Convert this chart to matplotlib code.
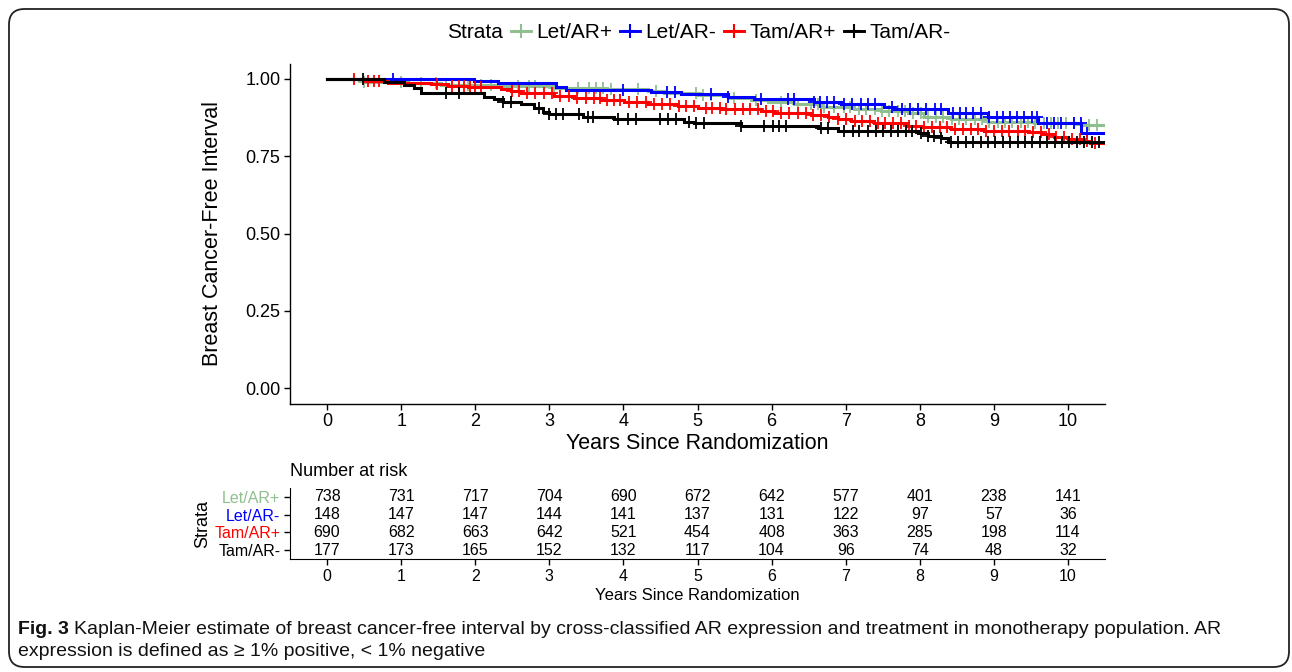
import numpy as np
import matplotlib
matplotlib.use("Agg")
import matplotlib.pyplot as plt
from matplotlib.lines import Line2D
from matplotlib.patches import FancyBboxPatch

plt.rcParams['font.family'] = ['Liberation Sans', 'DejaVu Sans']

# ---------------- data ----------------
strata = ["Let/AR+", "Let/AR-", "Tam/AR+", "Tam/AR-"]
colors = ["#8fbf8f", "#0000ff", "#ff0000", "#000000"]

# step drop times (years) and survival after each drop
let_pos_t = [0.50, 1.09, 1.54, 2.25, 3.06, 3.74, 4.33, 4.55, 5.01, 5.41, 5.72, 5.95, 6.30, 6.67,
             7.11, 7.48, 7.84, 8.06, 8.42, 8.92, 9.54, 10.18]
let_pos_s = [0.991, 0.986, 0.981, 0.976, 0.970, 0.966, 0.961, 0.956, 0.948, 0.939, 0.932, 0.927, 0.918, 0.910,
             0.902, 0.896, 0.889, 0.878, 0.870, 0.862, 0.857, 0.851]

let_neg_t = [1.98, 2.31, 3.09, 3.23, 4.37, 4.78, 5.41, 5.76, 6.57, 6.94, 7.52, 7.65, 8.38, 8.92, 9.60, 10.18]
let_neg_s = [0.995, 0.986, 0.975, 0.964, 0.957, 0.951, 0.943, 0.934, 0.925, 0.918, 0.910, 0.902, 0.891, 0.876,
             0.857, 0.826]

tam_pos_t = [0.50, 0.82, 1.40, 1.63, 1.90, 2.35, 2.48, 2.62, 3.06, 3.33, 3.70, 4.01, 4.33, 4.74, 5.01, 5.32,
             5.86, 6.03, 6.53, 6.76, 6.90, 7.07, 7.38, 7.84, 8.02, 8.42, 8.87, 9.46, 9.64, 9.81, 10.00, 10.18, 10.30]
tam_pos_s = [0.994, 0.988, 0.984, 0.978, 0.975, 0.968, 0.961, 0.954, 0.946, 0.938, 0.932, 0.925, 0.918, 0.914,
             0.907, 0.902, 0.896, 0.891, 0.883, 0.876, 0.869, 0.864, 0.857, 0.849, 0.844, 0.838, 0.833, 0.827,
             0.821, 0.813, 0.806, 0.800, 0.794]

tam_neg_t = [0.77, 1.04, 1.17, 1.27, 2.12, 2.25, 2.38, 2.62, 2.79, 2.91, 3.00, 3.45, 3.87, 4.82, 4.95, 5.59,
             6.63, 6.90, 7.98, 8.11, 8.29, 8.38]
tam_neg_s = [0.991, 0.980, 0.970, 0.956, 0.943, 0.934, 0.925, 0.918, 0.905, 0.894, 0.886, 0.878, 0.870, 0.862,
             0.857, 0.849, 0.840, 0.833, 0.824, 0.817, 0.808, 0.797]

# censoring times (years)
let_pos_c = [0.50, 1.00, 1.27, 1.47, 1.61, 1.90, 2.08, 2.21, 2.58, 2.72, 2.81, 3.06, 3.39, 3.53, 3.63, 3.72,
             3.83, 4.20, 4.44, 4.98, 5.07, 5.18, 5.49, 5.79, 6.13, 6.35, 6.53, 6.62, 6.71, 6.84, 6.98, 7.06,
             7.18, 7.28, 7.39, 7.49, 7.59, 7.70, 7.80, 7.91, 8.01, 8.11, 8.22, 8.32, 8.43, 8.53, 8.63, 8.74,
             8.84, 8.94, 9.05, 9.15, 9.25, 9.36, 9.46, 9.56, 9.67, 9.77, 9.87, 9.98, 10.08, 10.18, 10.29, 10.39]
let_neg_c = [0.89, 4.00, 4.59, 4.70, 5.18, 5.41, 5.86, 6.22, 6.30, 6.57, 6.66, 6.75, 6.84, 6.98, 7.09, 7.20,
             7.30, 7.39, 7.62, 7.76, 7.87, 7.98, 8.09, 8.21, 8.29, 8.45, 8.54, 8.63, 8.72, 8.83, 8.93, 9.04,
             9.13, 9.22, 9.31, 9.40, 9.51, 9.58, 9.72, 9.81, 9.90, 10.08, 10.17, 10.26]
tam_pos_c = [0.36, 0.55, 0.63, 0.70, 1.49, 1.69, 1.78, 1.85, 1.93, 2.00, 2.08, 2.50, 2.59, 2.70, 2.81, 2.93,
             3.04, 3.15, 3.27, 3.38, 3.49, 3.60, 3.69, 3.78, 3.87, 3.96, 4.07, 4.18, 4.30, 4.41, 4.52, 4.63,
             4.75, 4.84, 4.95, 5.11, 5.20, 5.31, 5.39, 5.50, 5.62, 5.71, 5.82, 5.93, 6.02, 6.13, 6.24, 6.36,
             6.47, 6.56, 6.67, 6.78, 6.90, 7.01, 7.12, 7.22, 7.33, 7.43, 7.53, 7.64, 7.74, 7.85, 7.95, 8.06,
             8.16, 8.27, 8.37, 8.48, 8.58, 8.69, 8.79, 8.90, 9.00, 9.11, 9.21, 9.32, 9.42, 9.53, 9.63, 9.74,
             9.84, 9.95, 10.05, 10.16, 10.26, 10.37]
tam_neg_c = [0.49, 1.60, 1.78, 2.38, 2.48, 2.86, 3.00, 3.09, 3.18, 3.40, 3.52, 3.59, 3.93, 4.06, 4.17, 4.50,
             4.60, 4.71, 4.89, 4.98, 5.09, 5.59, 5.90, 6.02, 6.10, 6.19, 6.67, 6.76, 6.98, 7.10, 7.18, 7.30,
             7.41, 7.50, 7.61, 7.70, 7.81, 7.90, 8.01, 8.11, 8.19, 8.29, 8.42, 8.52, 8.62, 8.72, 8.82, 8.92,
             9.02, 9.12, 9.22, 9.32, 9.42, 9.52, 9.62, 9.72, 9.82, 9.92, 10.02, 10.12, 10.22, 10.32, 10.42]

max_time = 10.5

# number at risk
risk_times = [0, 1, 2, 3, 4, 5, 6, 7, 8, 9, 10]
risk_let_pos = [738, 731, 717, 704, 690, 672, 642, 577, 401, 238, 141]
risk_let_neg = [148, 147, 147, 144, 141, 137, 131, 122, 97, 57, 36]
risk_tam_pos = [690, 682, 663, 642, 521, 454, 408, 363, 285, 198, 114]
risk_tam_neg = [177, 173, 165, 152, 132, 117, 104, 96, 74, 48, 32]

y_ticks = [0.00, 0.25, 0.50, 0.75, 1.00]
x_ticks = [0, 1, 2, 3, 4, 5, 6, 7, 8, 9, 10]

curves = [(let_pos_t, let_pos_s, let_pos_c),
          (let_neg_t, let_neg_s, let_neg_c),
          (tam_pos_t, tam_pos_s, tam_pos_c),
          (tam_neg_t, tam_neg_s, tam_neg_c)]
risks = [risk_let_pos, risk_let_neg, risk_tam_pos, risk_tam_neg]

# ---------------- figure ----------------
W, H = 1292, 672
fig = plt.figure(figsize=(W / 100, H / 100), dpi=100)


def fx(px):
    return px / W


def fy(py):
    return 1 - py / H


# frame
frame = FancyBboxPatch((fx(9), fy(667)), fx(1289) - fx(9), (667 - 9) / H,
                       boxstyle="round,pad=0,rounding_size=0.012", transform=fig.transFigure,
                       fill=False, edgecolor="#222222", linewidth=1.3, mutation_aspect=W / H)
fig.patches.append(frame)

# main axes
ax = fig.add_axes([fx(290), fy(403.5), fx(1105) - fx(290), (403.5 - 63.5) / H])
for (t, s, c), col in zip(curves, colors):
    tt = np.concatenate([[0.0], t, [max_time]])
    ss = np.concatenate([[1.0], s, [s[-1]]])
    ax.step(tt, ss, where='post', color=col, lw=2.2, solid_joinstyle='miter')
    idx = np.searchsorted(tt, c, side='right') - 1
    ax.plot(c, ss[idx], ls='none', marker='+', ms=8.5, mew=1.3, color=col)

ax.set_xlim(-0.5, 10.5)
ax.set_ylim(-0.05, 1.05)
ax.set_xticks(x_ticks)
ax.set_yticks(y_ticks)
ax.set_yticklabels([f"{v:.2f}" for v in y_ticks])
for sp in ['top', 'right']:
    ax.spines[sp].set_visible(False)
for sp in ['left', 'bottom']:
    ax.spines[sp].set_linewidth(1.0)
ax.tick_params(axis='both', labelsize=13, length=4, width=1.0, colors='black', pad=3)
ax.set_xlabel("Years Since Randomization", fontsize=15.5, labelpad=2)
ax.set_ylabel("Breast Cancer-Free Interval", fontsize=15.5, labelpad=16)

# legend
fig.text(fx(447), fy(33), "Strata", fontsize=15, va='center', ha='left')
handles = [Line2D([0], [0], color=c, lw=2.1, marker='+', ms=10, mew=1.5) for c in colors]
leg = fig.legend(handles, strata, loc='center left', bbox_to_anchor=(fx(511), fy(33)), ncol=4,
                 frameon=False, fontsize=15, handlelength=0.95, handletextpad=0.25, columnspacing=0.4,
                 borderaxespad=0, borderpad=0)

# risk table
ax2 = fig.add_axes([fx(290), fy(559), fx(1105) - fx(290), 71 / H])
ax2.set_xlim(-0.5, 10.5)
ax2.set_ylim(0.5, 4.5)
rows = [4, 3, 2, 1]
for r, vals in zip(rows, risks):
    for t, v in zip(risk_times, vals):
        ax2.text(t, r, str(v), ha='center', va='center', fontsize=11.5)
ax2.set_yticks(rows)
ax2.set_yticklabels(strata)
for lab, col in zip(ax2.get_yticklabels(), colors):
    lab.set_color(col)
ax2.set_xticks(x_ticks)
for sp in ['top', 'right']:
    ax2.spines[sp].set_visible(False)
ax2.tick_params(axis='both', labelsize=11.5, length=4, width=1.0, pad=3)
ax2.tick_params(axis='x', colors='black')
ax2.set_xlabel("Years Since Randomization", fontsize=12, labelpad=3)
ax2.set_ylabel("Strata", fontsize=13, labelpad=2)
fig.text(fx(290), fy(472), "Number at risk", fontsize=13, ha='left', va='center')

# caption
cap_font = ['Liberation Sans', 'DejaVu Sans']
t1 = fig.text(fx(18), fy(630), "Fig. 3", fontsize=14, fontweight='bold', family=cap_font,
              ha='left', va='center', color='#111111')
fig.canvas.draw()
bb = t1.get_window_extent()
fig.text(bb.x1 / W + fx(5), fy(630),
         "Kaplan-Meier estimate of breast cancer-free interval by cross-classified AR expression and "
         "treatment in monotherapy population. AR",
         fontsize=14, family=cap_font, ha='left', va='center', color='#111111')
fig.text(fx(18), fy(652), "expression is defined as \u2265 1% positive, < 1% negative",
         fontsize=14, family=cap_font, ha='left', va='center', color='#111111')

fig.savefig("out.png", dpi=100)
